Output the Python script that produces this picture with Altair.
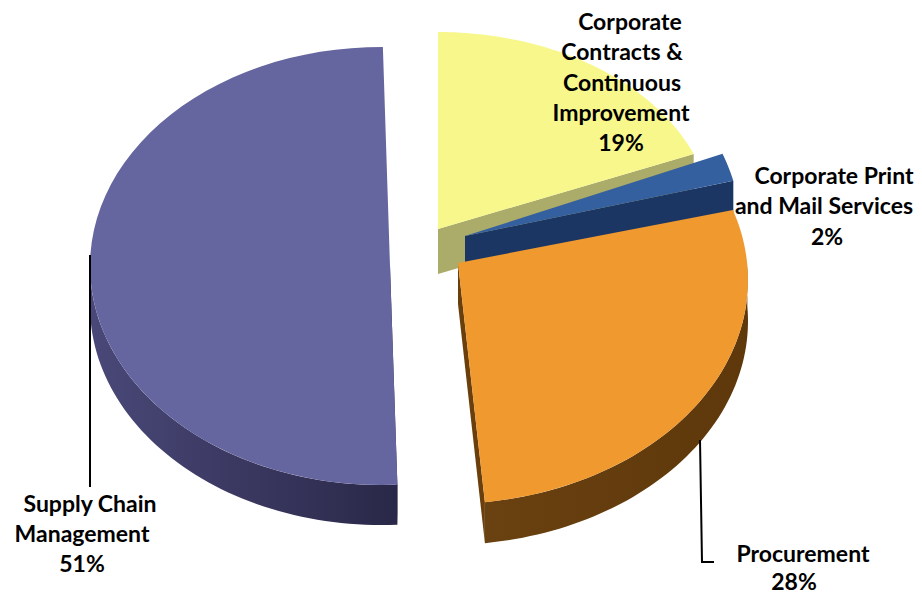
import numpy as np
import pandas as pd
import altair as alt

# Chart values
names = ["Corporate Contracts & Continuous Improvement", "Corporate Print and Mail Services", "Procurement", "Supply Chain Management"]
shares = [19, 2, 28, 51]

# Label lines
label_text = ["Corporate", "Contracts &", "Continuous", "Improvement", "19%",
              "Corporate Print", "and Mail Services", "2%",
              "Supply Chain", "Management", "51%",
              "Procurement", "28%"]
label_x = [630, 622, 622, 621, 621, 834, 824, 827, 90, 82, 82, 803, 794]
label_y = [23, 53, 84, 114, 144, 177, 207, 238, 505, 535, 565, 555, 583]

# Geometry of the exploded slices: apex, ellipse centre, radii, rotation, depth (in page pixels)
geom = {
    names[0]: dict(apex=(438, 229), c=(438, 225), r=(275, 193), rot=0.0, depth=45),
    names[1]: dict(apex=(465, 236), c=(465, 237), r=(277, 226), rot=0.0, depth=45),
    names[2]: dict(apex=(458, 263), c=(446, 280), r=(302, 224), rot=-3.8, depth=41),
    names[3]: dict(apex=(390, 266), c=(381, 266), r=(291, 219), rot=0.37, depth=40),
}
top_col = ["#f7f78c", "#34609f", "#f0992f", "#65659f"]

starts = np.cumsum([0] + shares[:-1]) * 3.6
ends = np.cumsum(shares) * 3.6


def arc(g, a0, a1, n=60):
    t = np.radians(np.linspace(a0, a1, n) + g["rot"])
    return g["c"][0] + g["r"][0] * np.sin(t), g["c"][1] - g["r"][1] * np.cos(t)


def poly(xs, ys):
    xs = list(xs) + [xs[0]]
    ys = list(ys) + [ys[0]]
    return pd.DataFrame({"x": xs, "y": ys, "i": range(len(xs))})


X = alt.Scale(domain=[8, 914])
Y = alt.Scale(domain=[594, 8])


def shape(df, fill):
    return alt.Chart(df).mark_line(fill=fill, stroke=None, strokeWidth=0).encode(
        x=alt.X("x:Q", scale=X, axis=None),
        y=alt.Y("y:Q", scale=Y, axis=None),
        order=alt.Order("i:Q"),
    )


def grad(c0, c1):
    return alt.Gradient(gradient="linear", x1=0, y1=0, x2=1, y2=0,
                        stops=[alt.GradientStop(color=c0, offset=0), alt.GradientStop(color=c1, offset=1)])


def top(k):
    g = geom[names[k]]
    ax, ay = arc(g, starts[k], ends[k])
    return shape(poly([g["apex"][0]] + list(ax), [g["apex"][1]] + list(ay)), top_col[k])


def rim(k, a0, a1, fill):
    g = geom[names[k]]
    ax, ay = arc(g, a0, a1)
    return shape(poly(list(ax) + list(ax[::-1]), list(ay) + list(ay[::-1] + g["depth"])), fill)


def chord(k, a, fill):
    g = geom[names[k]]
    ax, ay = arc(g, a, a, 1)
    px, py = g["apex"]
    d = g["depth"]
    return shape(poly([px, ax[0], ax[0], px], [py, ay[0], ay[0] + d, py + d]), fill)


layers = [
    rim(3, starts[3], 270, grad("#4a4878", "#2a2848")),
    chord(3, starts[3], "#2a2848"),
    top(3),
    chord(0, ends[0], "#abab6a"),
    top(0),
    chord(1, ends[1], "#1c3663"),
    top(1),
    rim(2, 90, ends[2], grad("#6a4110", "#5e380b")),
    chord(2, ends[2], "#6a3f0c"),
    top(2),
]

# Leader lines
lead1 = pd.DataFrame({"x": [90, 90], "y": [255, 487], "i": [0, 1]})
lead2 = pd.DataFrame({"x": [700, 702, 714], "y": [440, 562, 562], "i": [0, 1, 2]})
for d in (lead1, lead2):
    layers.append(alt.Chart(d).mark_line(color="#000000", strokeWidth=2).encode(
        x=alt.X("x:Q", scale=X, axis=None), y=alt.Y("y:Q", scale=Y, axis=None), order=alt.Order("i:Q")))

labels = pd.DataFrame({"t": label_text, "x": label_x, "y": label_y})
layers.append(alt.Chart(labels).mark_text(font="Lato", fontWeight="bold", fontSize=23, color="#000000",
                                          align="center", baseline="middle").encode(
    x=alt.X("x:Q", scale=X, axis=None), y=alt.Y("y:Q", scale=Y, axis=None), text="t:N"))

chart = alt.layer(*layers).properties(width=906, height=586, padding=0, background="#ffffff",
                                      autosize=alt.AutoSizeParams(type="none")).configure_view(stroke=None)
chart.save("out.html", embed_options={"renderer": "svg", "actions": False})
